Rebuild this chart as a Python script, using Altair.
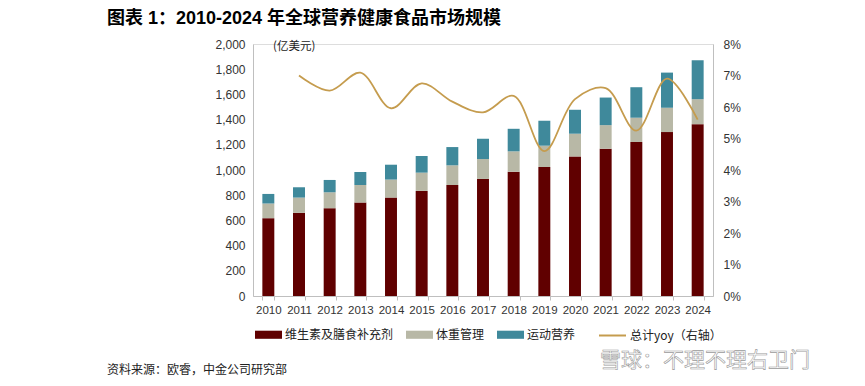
import altair as alt
import pandas as pd

years = [str(y) for y in range(2010, 2025)]
vitamins = [618, 660, 697, 742, 781, 834, 881, 929, 987, 1024, 1108, 1169, 1222, 1301, 1364]
weight = [116, 121, 126, 139, 143, 145, 156, 158, 161, 169, 180, 187, 193, 193, 198]
sports = [76, 82, 98, 103, 118, 132, 145, 161, 179, 198, 190, 219, 242, 279, 309]
yoy_years = [str(y) for y in range(2011, 2025)]
yoy = [0.070, 0.0652, 0.0709, 0.0596, 0.0675, 0.0617, 0.0583, 0.0635, 0.046, 0.0625, 0.066, 0.0525, 0.069, 0.056]

cat_names = ["维生素及膳食补充剂", "体重管理", "运动营养"]
cat_colors = ["#600000", "#B8B8A6", "#3F899B"]
line_name = "总计yoy（右轴）"
line_color = "#C59C4E"

title_text = "图表 1：2010-2024 年全球营养健康食品市场规模"
unit_text = "(亿美元)"
source_text = "资料来源：欧睿，中金公司研究部"
mark_text = "雪球：不理不理右卫门"

rows = []
for i, y in enumerate(years):
    for k, (name, vals) in enumerate(zip(cat_names, [vitamins, weight, sports])):
        rows.append({"year": y, "cat": name, "value": vals[i], "order": k})
bar_df = pd.DataFrame(rows)
line_df = pd.DataFrame({"year": yoy_years, "yoy": yoy, "series": line_name})

W, H = 460, 252
FONT = "Liberation Sans, Noto Sans CJK SC"
CJK = "Noto Sans CJK SC"
AX = "#bfbfbf"

x_enc = alt.X(
    "year:N", sort=years, title=None,
    scale=alt.Scale(paddingInner=0.61, paddingOuter=0.305),
    axis=alt.Axis(labelAngle=0, tickBand="extent", ticks=True, tickSize=4,
                  labelFontSize=11.5, labelPadding=4, labelFont=FONT,
                  domainColor=AX, tickColor=AX, labelColor="#333333"),
)

bars = alt.Chart(bar_df).mark_bar().encode(
    x=x_enc,
    y=alt.Y("value:Q", stack="zero", title=None,
            scale=alt.Scale(domain=[0, 2000]),
            axis=alt.Axis(values=list(range(0, 2001, 200)), format=",.0f", grid=False,
                          ticks=False, labelPadding=8, domainColor=AX,
                          labelFontSize=12, labelFont=FONT, labelColor="#333333")),
    color=alt.Color("cat:N", scale=alt.Scale(domain=cat_names, range=cat_colors),
                    legend=alt.Legend(title=None, orient="none", legendX=2, legendY=277,
                                      direction="horizontal",
                                      symbolType="M-1,-0.3L1,-0.3L1,0.3L-1,0.3Z",
                                      symbolSize=729, symbolStrokeWidth=0,
                                      labelFont=CJK, labelFontSize=12,
                                      labelColor="#222222", columnPadding=12,
                                      labelOffset=3)),
    order=alt.Order("order:Q"),
)

line = alt.Chart(line_df).mark_line(interpolate="catmull-rom", strokeWidth=1.8).encode(
    x=x_enc,
    y=alt.Y("yoy:Q", title=None, scale=alt.Scale(domain=[0, 0.08]),
            axis=alt.Axis(orient="right", format=".0%",
                          values=[0, 0.01, 0.02, 0.03, 0.04, 0.05, 0.06, 0.07, 0.08],
                          grid=False, ticks=False, labelPadding=10, domainColor=AX,
                          labelFontSize=12, labelFont=FONT, labelColor="#333333")),
    stroke=alt.Stroke("series:N", scale=alt.Scale(domain=[line_name], range=[line_color]),
                      legend=alt.Legend(title=None, orient="none", legendX=345, legendY=277,
                                        symbolType="M-1,0L1,0", symbolSize=729,
                                        symbolStrokeWidth=2,
                                        labelFont=CJK, labelFontSize=12,
                                        labelColor="#222222", labelOffset=3)),
)

unit = alt.Chart(pd.DataFrame({"t": [unit_text]})).mark_text(
    align="left", baseline="middle", font=CJK, fontSize=11.5, color="#222222"
).encode(x=alt.value(20), y=alt.value(3), text="t:N")

source = alt.Chart(pd.DataFrame({"t": [source_text]})).mark_text(
    align="left", baseline="middle", font=CJK, fontSize=12, color="#222222"
).encode(x=alt.value(-146), y=alt.value(326), text="t:N")

watermark = alt.Chart(pd.DataFrame({"t": [mark_text]})).mark_text(
    align="left", baseline="middle", font=CJK, fontSize=21, color="#ffffff",
    stroke="#9a9a9a", strokeWidth=0.6
).encode(x=alt.value(347), y=alt.value(317), text="t:N")

chart = alt.layer(bars, line, unit, source, watermark).resolve_scale(
    y="independent"
).properties(
    width=W, height=H,
    title=alt.TitleParams(title_text, anchor="start", dx=-146, offset=10,
                          fontSize=18, fontWeight="bold", font=FONT, color="#000000",
                          frame="group"),
    padding={"left": 245, "top": 36, "right": 144, "bottom": 82},
    autosize=alt.AutoSizeParams(type="none"),
).configure_view(stroke=None).configure(background="#ffffff")

chart.save("out.html", embed_options={"renderer": "svg", "actions": False})
